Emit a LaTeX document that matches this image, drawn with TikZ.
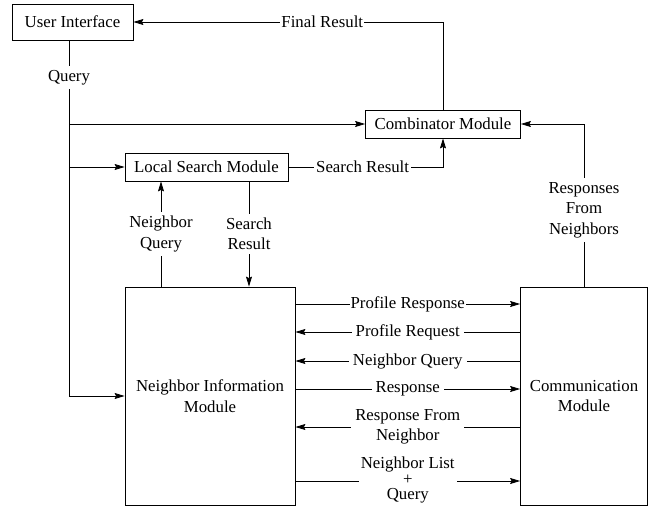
\documentclass[tikz,border=0pt]{standalone}
\usepackage{fontspec}
\setmainfont{Liberation Serif}
\newfontfamily\diagfont{Liberation Serif}
\usetikzlibrary{arrows.meta}
\begin{document}
\begin{tikzpicture}[x=1pt,y=-1pt,
  every node/.style={font=\diagfont\fontsize{16.8}{20.5}\selectfont},
  module/.style={draw, line width=0.8pt, inner sep=0pt, align=center},
  lbl/.style={fill=white, inner sep=4pt, align=center},
  conn/.style={line width=0.8pt, -{Stealth[length=10pt,width=6pt,inset=1.5pt]}}]
\useasboundingbox (0,0) rectangle (656,508);

% modules
\node[module, minimum width=121pt, minimum height=36pt] (ui)   at (72.5,22)  {User Interface};
\node[module, minimum width=155pt, minimum height=28pt] (comb) at (443,124)  {Combinator Module};
\node[module, minimum width=163pt, minimum height=28pt] (lsm)  at (206.5,167) {Local Search Module};
\node[module, minimum width=170pt, minimum height=218pt] (nim) at (210,396)  {Neighbor Information\\Module};
\node[module, minimum width=127pt, minimum height=218pt] (comm) at (584,396) {Communication\\Module};

% helper positions for the vertical and horizontal connector lanes
\coordinate (trunk) at (69,0);
\coordinate (nq) at (161,0);
\coordinate (sr) at (249,0);
\coordinate (r1) at (0,304);
\coordinate (r2) at (0,332);
\coordinate (r3) at (0,361);
\coordinate (r4) at (0,389);
\coordinate (r5) at (0,427);
\coordinate (r6) at (0,481);

% query trunk from the user interface
\draw[conn] (ui.south -| trunk) -- node[lbl, pos=0.105]{Query} (trunk |- nim.west) -- (nim.west);
\draw[conn] (trunk |- comb.west) -- (comb.west);
\draw[conn] (trunk |- lsm.west) -- (lsm.west);

% results flowing back
\draw[conn] (comb.north) -- (comb.north |- ui.east) -- node[lbl, inner sep=1pt, pos=0.39]{Final Result} (ui.east);
\draw[conn] (lsm.east) -- node[lbl, inner sep=2pt, pos=0.48]{Search Result} (lsm.east -| comb.south) -- (comb.south);
\draw[conn] (comm.north) -- node[lbl, pos=0.47]{Responses\\From\\Neighbors} (comm.north |- comb.east) -- (comb.east);

% local search <-> neighbor information
\draw[conn] (nq |- nim.north) -- node[lbl]{Neighbor\\Query} (nq |- lsm.south);
\draw[conn] (sr |- lsm.south) -- node[lbl]{Search\\Result} (sr |- nim.north);

% neighbor information <-> communication
\draw[conn] (nim.east |- r1) -- node[lbl, inner sep=1pt]{Profile Response} (comm.west |- r1);
\draw[conn] (comm.west |- r2) -- node[lbl]{Profile Request} (nim.east |- r2);
\draw[conn] (comm.west |- r3) -- node[lbl]{Neighbor Query} (nim.east |- r3);
\draw[conn] (nim.east |- r4) -- node[lbl]{Response} (comm.west |- r4);
\draw[conn] (comm.west |- r5) -- node[lbl]{Response From\\Neighbor} (nim.east |- r5);
\draw[conn] (nim.east |- r6) -- node[lbl, inner sep=2pt, font=\diagfont\fontsize{16.8}{15.5}\selectfont, yshift=1pt]{Neighbor List\\+\\Query} (comm.west |- r6);
\end{tikzpicture}
\end{document}
